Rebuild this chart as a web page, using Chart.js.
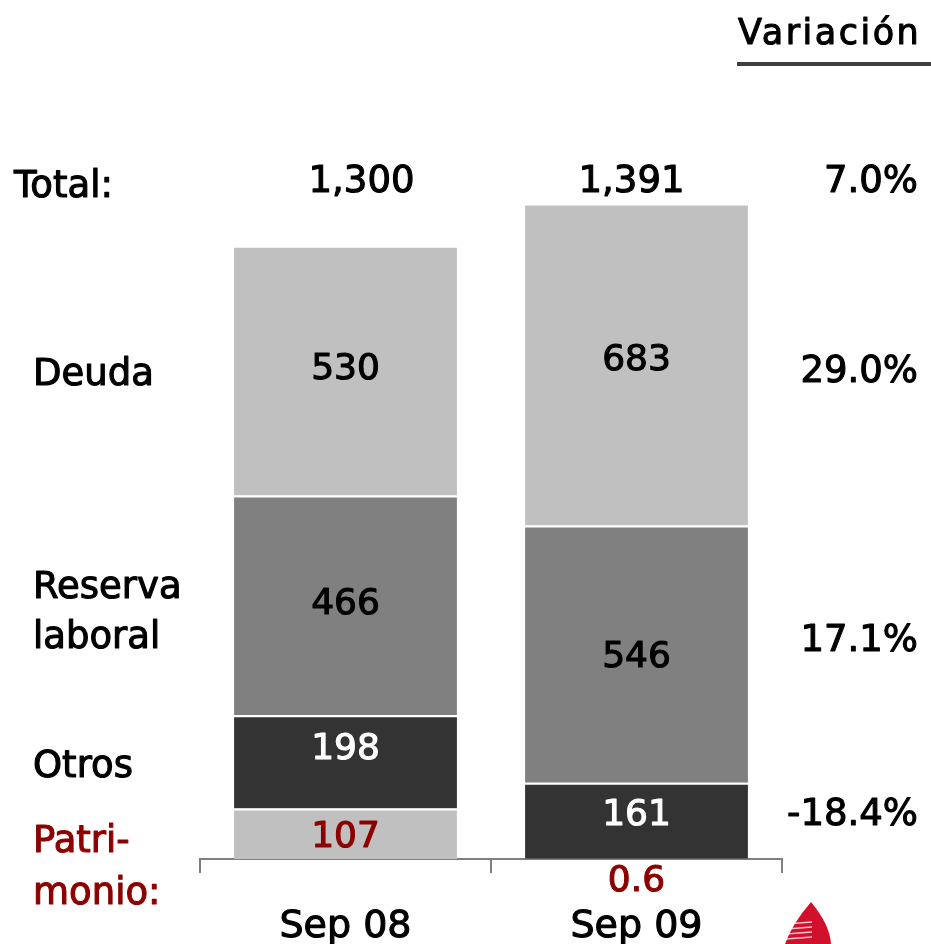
<!DOCTYPE html>
<html>
<head>
<meta charset="utf-8">
<script src="https://cdn.jsdelivr.net/npm/chart.js@4.4.1/dist/chart.umd.min.js"></script>
<style>
  html, body { margin: 0; padding: 0; background: #fff; }
</style>
</head>
<body>
<canvas id="chart" width="931" height="944"></canvas>
<script>
// Balance structure, millions
const periods = ['Sep 08', 'Sep 09'];
const patrimonio = [107, 0.6];
const otros = [198, 161];
const reserva = [466, 546];
const deuda = [530, 683];
const totals = [1300, 1391];
const variation = ['7.0%', '29.0%', '17.1%', '-18.4%'];

const FONT = "'DejaVu Sans', Verdana, sans-serif";
const RED = '#8c0000';

// draw text with a thin stroke so it reads a bit heavier
function txt(ctx, s, x, y, opts) {
  const o = Object.assign({ size: 37, color: '#000', align: 'left', spacing: '0px' }, opts);
  ctx.save();
  ctx.font = o.size + 'px ' + FONT;
  ctx.fillStyle = o.color;
  ctx.strokeStyle = o.color;
  ctx.lineWidth = 1.1;
  ctx.lineJoin = 'round';
  ctx.textAlign = o.align;
  ctx.textBaseline = 'alphabetic';
  ctx.letterSpacing = o.spacing;
  ctx.fillText(s, x, y);
  ctx.strokeText(s, x, y);
  ctx.restore();
}

// value labels inside the segments; small vertical nudges per segment
const labelStyle = {
  'Patrimonio': { color: RED, shift: [0, 0] },
  'Otros': { color: '#fff', shift: [-16, -9] },
  'Reserva laboral': { color: '#000', shift: [-4, 0] },
  'Deuda': { color: '#000', shift: [-5, -8] }
};
const totalShift = [16, -5];

const annotations = {
  id: 'annotations',
  afterDatasetsDraw(chart) {
    const ctx = chart.ctx;
    const xs = chart.scales.x;

    chart.data.datasets.forEach((ds, di) => {
      const meta = chart.getDatasetMeta(di);
      const st = labelStyle[ds.label];
      meta.data.forEach((bar, i) => {
        const v = ds.data[i];
        const s = v < 1 ? String(v) : v.toLocaleString('en-US');
        let cy = (bar.y + bar.base) / 2 + st.shift[i];
        // too thin to hold its label: put it under the axis
        if (Math.abs(bar.base - bar.y) < 20) cy = bar.base + 19;
        txt(ctx, s, bar.x, cy + 13, { size: 36, color: st.color, align: 'center' });
      });
    });

    // category names under the axis
    periods.forEach((p, i) => {
      txt(ctx, p, xs.getPixelForValue(i), 937, { size: 38, align: 'center' });
    });

    // totals row
    txt(ctx, 'Total:', 14, 197);
    totals.forEach((t, i) => {
      txt(ctx, t.toLocaleString('en-US'), xs.getPixelForValue(i) + totalShift[i], 192, { align: 'center' });
    });

    // row names on the left
    txt(ctx, 'Deuda', 33, 385);
    txt(ctx, 'Reserva', 33, 598);
    txt(ctx, 'laboral', 33, 648);
    txt(ctx, 'Otros', 33, 777);
    txt(ctx, 'Patri-', 33, 852, { color: RED });
    txt(ctx, 'monio:', 33, 904, { color: RED });

    // variation column
    txt(ctx, 'Variación', 738, 44, { size: 35, spacing: '2.5px' });
    ctx.fillStyle = '#404040';
    ctx.fillRect(737, 62, 194, 4);
    const rowsY = [192, 382, 651, 825];
    variation.forEach((v, i) => txt(ctx, v, 918, rowsY[i], { align: 'right' }));

    // corner logo mark
    ctx.save();
    ctx.fillStyle = '#d3102c';
    ctx.beginPath();
    ctx.moveTo(811, 902);
    ctx.quadraticCurveTo(830, 925, 831, 944);
    ctx.lineTo(785, 944);
    ctx.quadraticCurveTo(792, 924, 811, 902);
    ctx.fill();
    ctx.strokeStyle = 'rgba(255,255,255,0.75)';
    ctx.lineWidth = 1.5;
    for (let y = 924; y < 944; y += 5) {
      ctx.beginPath();
      ctx.moveTo(786, y);
      ctx.lineTo(812, y - 2);
      ctx.stroke();
    }
    ctx.restore();
  }
};

const segment = (label, data, color) => ({
  label,
  data,
  backgroundColor: color,
  borderColor: '#fff',
  borderWidth: { top: 2, bottom: 0, left: 0, right: 0 },
  borderSkipped: false,
  barPercentage: 0.766,
  categoryPercentage: 1
});

new Chart(document.getElementById('chart'), {
  type: 'bar',
  data: {
    labels: periods,
    datasets: [
      segment('Patrimonio', patrimonio, '#c0c0c0'),
      segment('Otros', otros, '#333333'),
      segment('Reserva laboral', reserva, '#808080'),
      segment('Deuda', deuda, '#c0c0c0')
    ]
  },
  options: {
    responsive: false,
    animation: false,
    layout: { padding: { left: 200, right: 149, top: 152, bottom: 0 } },
    plugins: {
      legend: { display: false },
      tooltip: { enabled: false }
    },
    scales: {
      x: {
        stacked: true,
        grid: {
          offset: true,
          drawOnChartArea: false,
          drawTicks: true,
          tickLength: 14,
          color: '#7f7f7f',
          lineWidth: 2
        },
        border: { display: true, color: '#7f7f7f', width: 2 },
        ticks: { display: false },
        afterFit: (scale) => { scale.height = 85; }
      },
      y: {
        stacked: true,
        display: false,
        min: 0,
        max: 1500
      }
    }
  },
  plugins: [annotations]
});
</script>
</body>
</html>
